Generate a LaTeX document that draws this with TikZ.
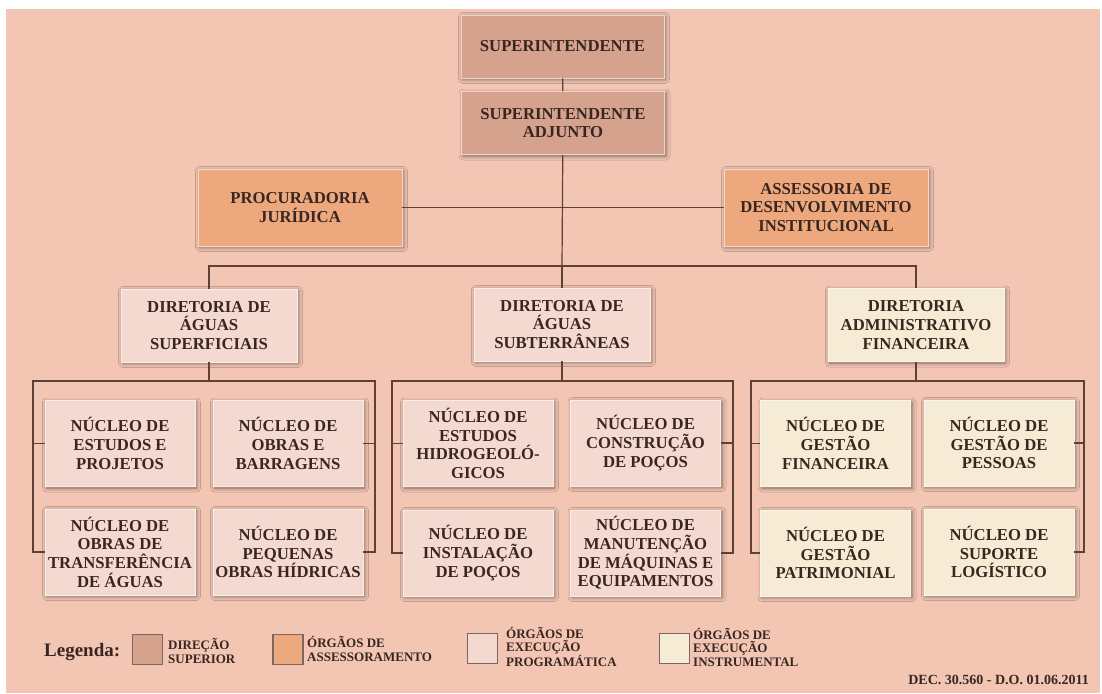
\documentclass[tikz,border=0pt]{standalone}
\usepackage{fontspec}
\setmainfont{Liberation Serif}
\usetikzlibrary{shadows.blur}

\definecolor{bgpink}{HTML}{F3C6B4}
\definecolor{cDir}{HTML}{D4A28D}
\definecolor{cAss}{HTML}{EDA97D}
\definecolor{cProg}{HTML}{F4D9D1}
\definecolor{cInst}{HTML}{F6EBD5}
\definecolor{ink}{HTML}{3A2620}
\definecolor{wire}{HTML}{5E4036}

\newcommand\bxfont{\fontsize{16.7}{18.7}\selectfont\bfseries}
\newcommand\lgfont{\fontsize{13}{13.5}\selectfont\bfseries}

\begin{document}
\begin{tikzpicture}[x=1pt,y=-1pt,
  orgbox/.style={draw=#1!45!white, fill=#1, line width=0.7pt, inner sep=0pt,
    align=center, text=ink, font=\bxfont,
    blur shadow={shadow xshift=1.5pt, shadow yshift=-1.5pt,
      shadow blur radius=4pt, shadow opacity=50}},
  topbox/.style={orgbox=cDir, minimum width=203pt, minimum height=63pt},
  advbox/.style={orgbox=cAss, minimum width=204pt, minimum height=77pt},
  dirbox/.style={orgbox=#1, minimum width=176pt, minimum height=73pt},
  nucbox/.style={orgbox=#1, minimum width=150pt, minimum height=86pt},
  wireline/.style={draw=wire, line width=1.2pt},
  swatch/.style={draw=wire!80!white, fill=#1, line width=1.2pt,
    minimum size=30pt, inner sep=0pt},
  keytext/.style={anchor=west, align=left, text=ink, font=\lgfont, inner sep=0pt},
]
% page and background panel
\useasboundingbox (0,0) rectangle (1102,693);
\fill[white] (0,0) rectangle (1102,693);
\fill[bgpink] (6,9) rectangle (1100,693);

% top management
\node[topbox] (sup) at (562.5,46.5) {SUPERINTENDENTE};
\node[topbox] (adj) at (563,123) {SUPERINTENDENTE\\ADJUNTO};

% advisory bodies
\node[advbox] (proc) at (300,207.5) {PROCURADORIA\\JURÍDICA};
\node[advbox] (asse) at (826,207.5) {ASSESSORIA DE\\DESENVOLVIMENTO\\INSTITUCIONAL};

% directorates
\node[dirbox=cProg] (d1) at (209,325.5) {DIRETORIA DE\\ÁGUAS\\SUPERFICIAIS};
\node[dirbox=cProg] (d2) at (562,324.5) {DIRETORIA DE\\ÁGUAS\\SUBTERRÂNEAS};
\node[dirbox=cInst] (d3) at (916,325) {DIRETORIA\\ADMINISTRATIVO\\FINANCEIRA};

% units, surface waters
\node[nucbox=cProg] (a11) at (120,443.5) {NÚCLEO DE\\ESTUDOS E\\PROJETOS};
\node[nucbox=cProg] (a12) at (288,443.5) {NÚCLEO DE\\OBRAS E\\BARRAGENS};
\node[nucbox=cProg] (a21) at (120,552) {NÚCLEO DE\\OBRAS DE\\TRANSFERÊNCIA\\DE ÁGUAS};
\node[nucbox=cProg] (a22) at (288,552) {NÚCLEO DE\\PEQUENAS\\OBRAS HÍDRICAS};

% units, groundwater
\node[nucbox=cProg] (b11) at (478,443.5) {NÚCLEO DE\\ESTUDOS\\HIDROGEOLÓ-\\GICOS};
\node[nucbox=cProg] (b12) at (645.5,443) {NÚCLEO DE\\CONSTRUÇÃO\\DE POÇOS};
\node[nucbox=cProg] (b21) at (478,553) {NÚCLEO DE\\INSTALAÇÃO\\DE POÇOS};
\node[nucbox=cProg] (b22) at (645.5,553) {NÚCLEO DE\\MANUTENÇÃO\\DE MÁQUINAS E\\EQUIPAMENTOS};

% units, administration and finance
\node[nucbox=cInst] (c11) at (835.5,443.5) {NÚCLEO DE\\GESTÃO\\FINANCEIRA};
\node[nucbox=cInst] (c12) at (999,443) {NÚCLEO DE\\GESTÃO DE\\PESSOAS};
\node[nucbox=cInst] (c21) at (835.5,553) {NÚCLEO DE\\GESTÃO\\PATRIMONIAL};
\node[nucbox=cInst] (c22) at (999,552) {NÚCLEO DE\\SUPORTE\\LOGÍSTICO};

% bus junctions
\coordinate (hub) at (562,266);
\coordinate (s1) at (209,381);
\coordinate (s1l) at (33,381);
\coordinate (s1r) at (375,381);
\coordinate (s2) at (562,381);
\coordinate (s2l) at (392,381);
\coordinate (s2r) at (733,381);
\coordinate (s3) at (916,381);
\coordinate (s3l) at (751,381);
\coordinate (s3r) at (1084,381);

% connectors, upper levels
\draw[wireline] (sup) -- (adj);
\draw[wireline] (adj) -- (hub);
\draw[wireline] (proc) -- (asse);
\draw[wireline] (d1.north) |- (hub) -| (d3.north);
\draw[wireline] (hub) -- (d2.north);

% connectors, unit brackets
\draw[wireline] (d1.south) -- (s1);
\draw[wireline] (a21.west) -| (s1l) -- (s1r) |- (a22.east);
\draw[wireline] (a11.west) -- (a11.west -| s1l);
\draw[wireline] (a12.east) -- (a12.east -| s1r);

\draw[wireline] (d2.south) -- (s2);
\draw[wireline] (b21.west) -| (s2l) -- (s2r) |- (b22.east);
\draw[wireline] (b11.west) -- (b11.west -| s2l);
\draw[wireline] (b12.east) -- (b12.east -| s2r);

\draw[wireline] (d3.south) -- (s3);
\draw[wireline] (c21.west) -| (s3l) -- (s3r) |- (c22.east);
\draw[wireline] (c11.west) -- (c11.west -| s3l);
\draw[wireline] (c12.east) -- (c12.east -| s3r);

% legend
\node[anchor=west, inner sep=0pt, text=ink, font=\fontsize{19}{20}\selectfont\bfseries] (lg) at (44,652) {Legenda:};
\node[swatch=cDir] (k1) at (147.5,649.5) {};
\node[keytext] (t1) at (168,651) {DIREÇÃO\\SUPERIOR};
\node[swatch=cAss] (k2) at (288,649.5) {};
\node[keytext] (t2) at (307,649) {ÓRGÃOS DE\\ASSESSORAMENTO};
\node[swatch=cProg] (k3) at (482.5,648.5) {};
\node[keytext] (t3) at (506,647) {ÓRGÃOS DE\\EXECUÇÃO\\PROGRAMÁTICA};
\node[swatch=cInst] (k4) at (674.5,648.5) {};
\node[keytext] (t4) at (693,647) {ÓRGÃOS DE\\EXECUÇÃO\\INSTRUMENTAL};

\node[anchor=east, inner sep=0pt, text=ink, font=\fontsize{14}{15}\selectfont\bfseries] (dec) at (1089,680) {DEC. 30.560 - D.O. 01.06.2011};
\end{tikzpicture}
\end{document}
